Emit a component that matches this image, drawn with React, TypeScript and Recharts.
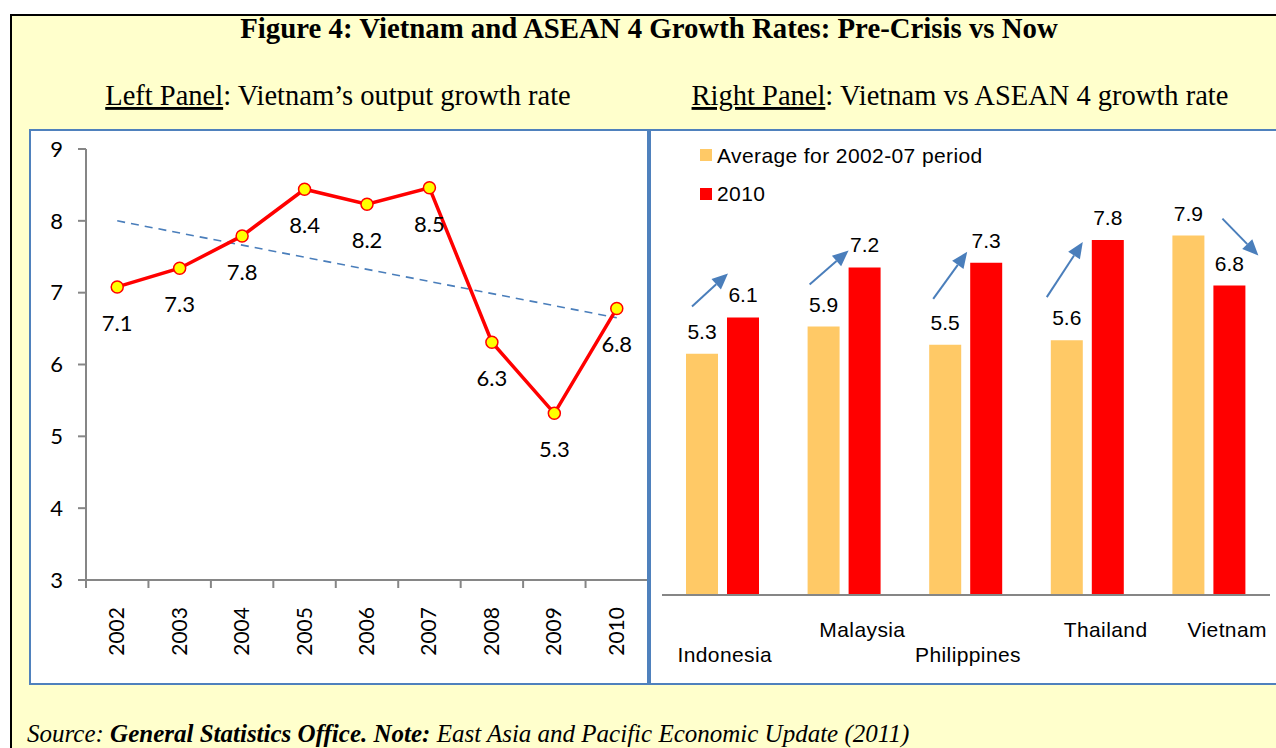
import React from 'react';
import { LineChart, Line, XAxis, YAxis, ReferenceLine, LabelList, BarChart, Bar } from 'recharts';

// left panel: Vietnam output growth
const years = [2002, 2003, 2004, 2005, 2006, 2007, 2008, 2009, 2010];
const vietnamGrowth = [7.08, 7.34, 7.79, 8.44, 8.23, 8.46, 6.31, 5.32, 6.78];
const trendYears = [2002, 2010];
const trendValues = [8.0, 6.65];
const growthTicks = [3, 4, 5, 6, 7, 8, 9];
const yearBoundaries = [2001.5, 2002.5, 2003.5, 2004.5, 2005.5, 2006.5, 2007.5, 2008.5, 2009.5, 2010.5];

// right panel: Vietnam vs ASEAN 4
const countries = ['Indonesia', 'Malaysia', 'Philippines', 'Thailand', 'Vietnam'];
const avgPreCrisis = [5.3, 5.9, 5.5, 5.6, 7.9];
const growth2010 = [6.1, 7.2, 7.3, 7.8, 6.8];

const lineData = years.map((year, i) => ({ year, rate: vietnamGrowth[i] }));
const barData = countries.map((country, i) => ({ country, avg: avgPreCrisis[i], y2010: growth2010[i] }));

const AXIS = '#868686';
const BLUE = '#4F81BD';
const ARROW = '#4A7EBB';
const ORANGE = '#FFC966';
const RED = '#FF0000';
const SERIF = '"Liberation Serif", "Times New Roman", serif';
const SANS = '"Liberation Sans", Arial, sans-serif';

// 0 = upper row, 1 = lower row (staggered category labels)
const countryLabelRow = [1, 0, 1, 0, 0];
// arrow tail / tip, relative to top-left corner of the 2010 bar
const arrowOffsets = [
  { x1: -35, y1: -11, x2: 1, y2: -44 },
  { x1: -39, y1: 17, x2: 0, y2: -17 },
  { x1: -37, y1: 36, x2: -3, y2: -11 },
  { x1: -45, y1: 57, x2: -9, y2: 2 },
  { x1: 9, y1: -67, x2: 45, y2: -30 },
];

function YearTick(props: any) {
  const { x, y, payload } = props;
  const v = payload.value;
  if (v % 1 !== 0) {
    return <line x1={x} x2={x} y1={y} y2={y + 8} stroke={AXIS} strokeWidth={2} />;
  }
  const tx = x + 7;
  const ty = y + 27;
  return (
    <text x={tx} y={ty} transform={`rotate(-90 ${tx} ${ty})`} textAnchor="end" fontFamily="Lato" fontSize={21} fill="#000">
      {v}
    </text>
  );
}

function CountryTick(props: any) {
  const { x, y, payload } = props;
  const idx = countries.indexOf(payload.value);
  const upper = countryLabelRow[idx] === 0;
  return (
    <text x={x + (upper ? 18 : 2)} y={y + (upper ? 42 : 67)} textAnchor="middle" fontFamily={SANS} fontSize={21} letterSpacing={0.4} fill="#000">
      {payload.value}
    </text>
  );
}

const pick = (props: any, k: string) => (props[k] !== undefined ? props[k] : props.viewBox ? props.viewBox[k] : 0);

const renderPointLabel = (props: any) => {
  const x = pick(props, 'x');
  const y = pick(props, 'y');
  return (
    <text x={x} y={y + 44} textAnchor="middle" fontFamily="Lato" fontSize={22} fill="#000">
      {Number(props.value).toFixed(1)}
    </text>
  );
};

const renderBarValue = (props: any) => {
  const x = pick(props, 'x');
  const y = pick(props, 'y');
  const w = pick(props, 'width');
  return (
    <text x={x + w / 2} y={y - 15} textAnchor="middle" fontFamily={SANS} fontSize={21} fill="#000">
      {Number(props.value).toFixed(1)}
    </text>
  );
};

const renderArrow = (props: any) => {
  const x = pick(props, 'x');
  const y = pick(props, 'y');
  const a = arrowOffsets[props.index];
  if (!a) return null;
  const x1 = x + a.x1, y1 = y + a.y1, x2 = x + a.x2, y2 = y + a.y2;
  const ang = Math.atan2(y2 - y1, x2 - x1);
  const len = 16, half = 7;
  const bx = x2 - len * Math.cos(ang), by = y2 - len * Math.sin(ang);
  const px = -Math.sin(ang) * half, py = Math.cos(ang) * half;
  return (
    <g>
      <line x1={x1} y1={y1} x2={bx} y2={by} stroke={ARROW} strokeWidth={2} />
      <polygon points={`${x2},${y2} ${bx + px},${by + py} ${bx - px},${by - py}`} fill={ARROW} />
    </g>
  );
};

export default function App() {
  return (
    <div style={{ position: 'absolute', left: 0, top: 0, width: 1276, height: 748, overflow: 'hidden', background: '#fff' }}>
      <div style={{ position: 'absolute', left: 10, top: 14, width: 1400, height: 900, border: '2px solid #000', background: '#FFFFCC' }} />
      <div style={{ position: 'absolute', left: 30, top: 130, width: 618, height: 554, background: '#fff' }} />
      <div style={{ position: 'absolute', left: 650, top: 130, width: 700, height: 554, background: '#fff' }} />

      <div style={{ position: 'absolute', left: 31, top: 131 }}>
        <LineChart width={617} height={552} data={lineData} margin={{ top: 18, right: 0, left: 5, bottom: 0 }}>
          <XAxis
            dataKey="year"
            type="number"
            domain={[2001.5, 2010.5]}
            ticks={[...yearBoundaries, ...years]}
            interval={0}
            tick={<YearTick />}
            tickLine={false}
            tickSize={0}
            tickMargin={0}
            height={103}
            axisLine={{ stroke: AXIS, strokeWidth: 2 }}
          />
          <YAxis
            type="number"
            domain={[3, 9]}
            ticks={growthTicks}
            interval={0}
            width={50}
            tickSize={8}
            tickMargin={15}
            axisLine={{ stroke: AXIS, strokeWidth: 2 }}
            tickLine={{ stroke: AXIS, strokeWidth: 2 }}
            tick={{ fontFamily: 'Lato', fontSize: 22, fill: '#000' }}
          />
          <ReferenceLine
            segment={[
              { x: trendYears[0], y: trendValues[0] },
              { x: trendYears[1], y: trendValues[1] },
            ]}
            stroke={ARROW}
            strokeWidth={1.6}
            strokeDasharray="8 6"
          />
          <Line
            type="linear"
            dataKey="rate"
            stroke={RED}
            strokeWidth={3.5}
            dot={{ r: 6, fill: '#FFFF00', stroke: RED, strokeWidth: 1.5 }}
            activeDot={false}
            isAnimationActive={false}
          >
            <LabelList dataKey="rate" content={renderPointLabel} />
          </Line>
        </LineChart>
      </div>

      <div style={{ position: 'absolute', left: 651, top: 131 }}>
        <BarChart width={625} height={552} data={barData} margin={{ top: 9, right: 6, left: 11, bottom: 0 }} barSize={32} barGap={9}>
          <XAxis
            dataKey="country"
            interval={0}
            tick={<CountryTick />}
            tickLine={false}
            tickSize={0}
            tickMargin={0}
            height={88}
            axisLine={{ stroke: AXIS, strokeWidth: 2 }}
          />
          <YAxis hide domain={[0, 10]} />
          <Bar dataKey="avg" fill={ORANGE} isAnimationActive={false}>
            <LabelList dataKey="avg" content={renderBarValue} />
          </Bar>
          <Bar dataKey="y2010" fill={RED} isAnimationActive={false}>
            <LabelList dataKey="y2010" content={renderBarValue} />
            <LabelList dataKey="y2010" content={renderArrow} />
          </Bar>
        </BarChart>
      </div>

      <svg width={1276} height={748} style={{ position: 'absolute', left: 0, top: 0, pointerEvents: 'none' }}>
        <text x={649} y={38} textAnchor="middle" fontFamily={SERIF} fontWeight="bold" fontSize={28.8} fill="#000">
          Figure 4: Vietnam and ASEAN 4 Growth Rates: Pre-Crisis vs Now
        </text>
        <text x={338} y={105} textAnchor="middle" fontFamily={SERIF} fontSize={28.5} fill="#000">
          <tspan style={{ textDecoration: 'underline' }}>Left Panel</tspan>: Vietnam’s output growth rate
        </text>
        <text x={960} y={105} textAnchor="middle" fontFamily={SERIF} fontSize={28.5} fill="#000">
          <tspan style={{ textDecoration: 'underline' }}>Right Panel</tspan>: Vietnam vs ASEAN 4 growth rate
        </text>

        <rect x={30} y={130} width={618} height={554} fill="none" stroke={BLUE} strokeWidth={2} />
        <rect x={650} y={130} width={700} height={554} fill="none" stroke={BLUE} strokeWidth={2} />

        <rect x={700} y={149} width={12} height={12} fill={ORANGE} />
        <text x={717} y={163} fontFamily={SANS} fontSize={21} letterSpacing={0.4} fill="#000">Average for 2002-07 period</text>
        <rect x={700} y={188} width={12} height={12} fill={RED} />
        <text x={717} y={201} fontFamily={SANS} fontSize={21} letterSpacing={0.4} fill="#000">2010</text>

        <text x={27} y={742} fontFamily={SERIF} fontStyle="italic" fontSize={25} fill="#000">
          Source: <tspan fontWeight="bold">General Statistics Office. Note:</tspan> East Asia and Pacific Economic Update (2011)
        </text>
      </svg>
    </div>
  );
}
